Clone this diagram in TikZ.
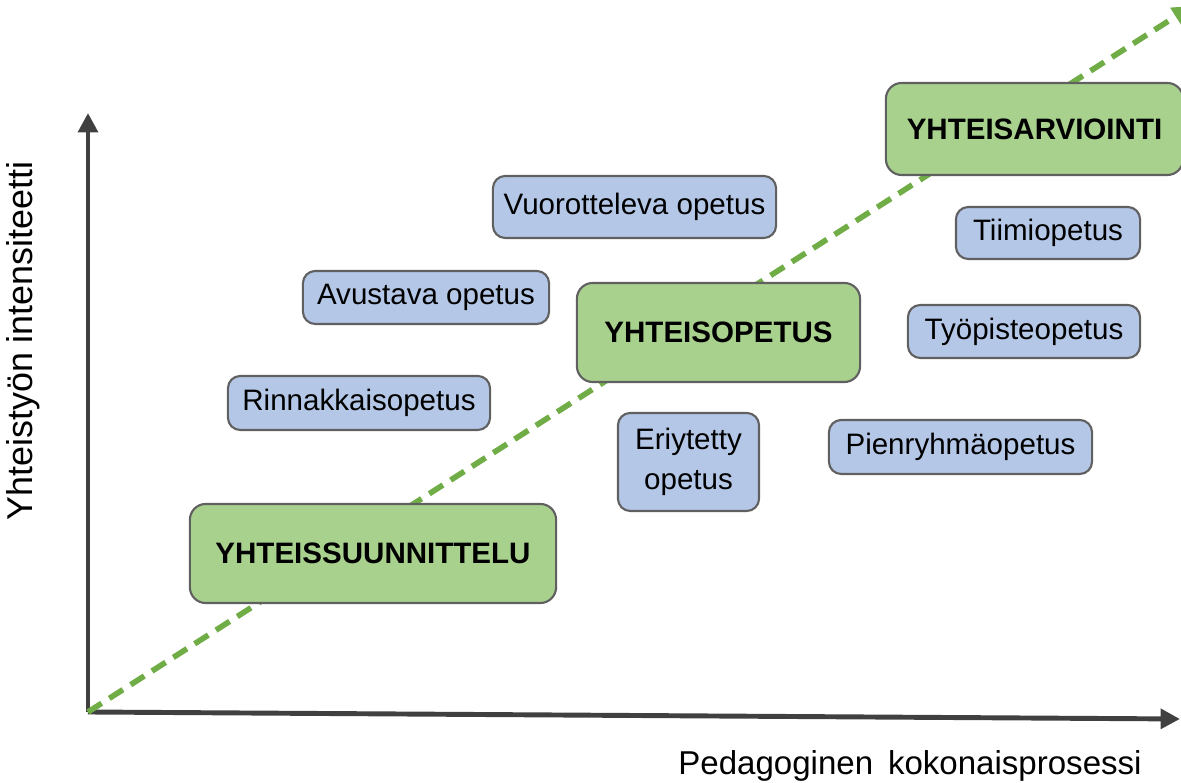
\documentclass[tikz,border=0pt]{standalone}
\usepackage{fontspec}
\setmainfont{Liberation Sans}
\usetikzlibrary{arrows.meta}
\definecolor{vihrea}{HTML}{A9D18E}
\definecolor{sininen}{HTML}{B4C7E7}
\definecolor{katko}{HTML}{70AD47}
\definecolor{akselivari}{HTML}{404040}
\definecolor{reuna}{HTML}{606060}

\begin{document}
\begin{tikzpicture}[x=0.01cm, y=-0.01cm,
    laatikko/.style={draw=reuna, line width=0.6pt, rounded corners=3.5pt,
      align=center, inner sep=0pt, font=\fontsize{8.4}{11.2}\selectfont},
    menetelma/.style={laatikko, fill=sininen},
    vaihe/.style={laatikko, fill=vihrea, rounded corners=4.5pt,
      font=\fontsize{8.4}{11.2}\selectfont\bfseries},
    akseli/.style={draw=akselivari, line width=1.4pt,
      -{Triangle[length=5.5pt, width=5.5pt]}},
    suunta/.style={draw=katko, line width=1.6pt,
      dash pattern=on 4.6pt off 2.6pt,
      -{Triangle[length=5.5pt, width=5.5pt]}},
  ]
  \clip (0,0) rectangle (1181,783);

  \coordinate (o)  at (88,712);
  \coordinate (yk) at (88,113);
  \coordinate (xk) at (1180,719);
  \coordinate (k)  at (1192,6);

  \draw [akseli] (o) -- (yk);
  \draw [akseli] (o) -- (xk);
  \draw [suunta] (o) -- (k);

  \node [vaihe, minimum width=3.66cm, minimum height=0.99cm] (ysuunn) at (373,553.5) {YHTEISSUUNNITTELU};
  \node [vaihe, minimum width=2.83cm, minimum height=0.99cm] (yopetus) at (718.5,332.5) {YHTEISOPETUS};
  \node [vaihe, minimum width=2.97cm, minimum height=0.92cm] (yarv) at (1034.5,129) {YHTEISARVIOINTI};

  \node [menetelma, minimum width=2.83cm, minimum height=0.62cm] (vuoro) at (634.5,207) {Vuorotteleva opetus};
  \node [menetelma, minimum width=2.46cm, minimum height=0.53cm] (avust) at (426,297.5) {Avustava opetus};
  \node [menetelma, minimum width=2.62cm, minimum height=0.54cm] (rinn) at (359,403) {Rinnakkaisopetus};
  \node [menetelma, minimum width=1.41cm, minimum height=0.98cm] (eriyt) at (688.5,462) {Eriytetty\\opetus};
  \node [menetelma, minimum width=2.63cm, minimum height=0.54cm] (pienr) at (960.5,447) {Pienryhmäopetus};
  \node [menetelma, minimum width=2.32cm, minimum height=0.53cm] (tyop) at (1024,331.5) {Työpisteopetus};
  \node [menetelma, minimum width=1.84cm, minimum height=0.52cm] (tiimi) at (1048,233) {Tiimiopetus};

  \node [rotate=90, font=\fontsize{10.2}{12}\selectfont] (ynimi) at (23,341) {Yhteistyön intensiteetti};
  \node [font=\fontsize{9.4}{11}\selectfont] (xnimi) at (910,766) {Pedagoginen\hspace{0.45em}kokonaisprosessi};
\end{tikzpicture}
\end{document}
